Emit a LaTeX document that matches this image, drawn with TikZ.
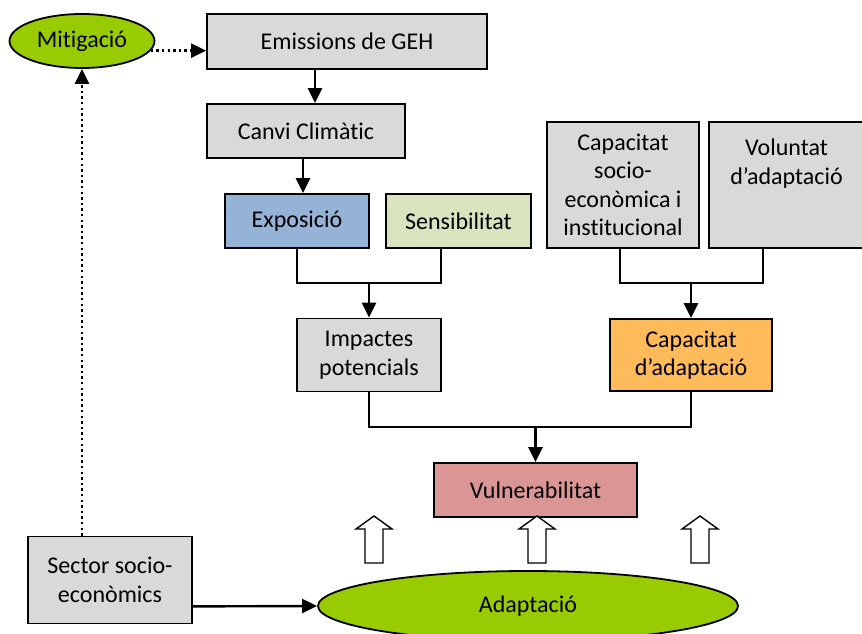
\documentclass[tikz,border=0pt]{standalone}
\usepackage{fontspec}
\setmainfont{Carlito}[Ligatures=NoCommon]
\usetikzlibrary{shapes.geometric, arrows.meta}
\definecolor{boxgray}{HTML}{D9D9D9}
\definecolor{leafgreen}{HTML}{99CC00}
\definecolor{expblue}{HTML}{95B3D7}
\definecolor{senpale}{HTML}{D7E4BD}
\definecolor{adaporange}{HTML}{FFBA5A}
\definecolor{vulred}{HTML}{DA9694}
\tikzset{
  every node/.style={font=\fontsize{24}{28.5}\selectfont},
  block/.style={draw, line width=1.8pt, fill=boxgray, align=center, inner sep=0pt},
  oval/.style={ellipse, draw, line width=1.8pt, fill=leafgreen, inner sep=0pt},
  link/.style={line width=2.2pt},
  flow/.style={line width=2.4pt, -{Triangle[length=15pt,width=14pt]}},
  hint/.style={line width=2.4pt, dash pattern=on 2.4pt off 3.2pt, -{Triangle[length=15pt,width=14pt]}},
  hollow/.style={draw, line width=1.4pt, fill=white},
}

\begin{document}
\begin{tikzpicture}[x=1pt, y=1pt]
		\useasboundingbox (0,0) rectangle (862,633);

		% nodes
		\node[oval, minimum width=145pt, minimum height=54pt] (mit) at (82,592) {Mitigació};
		\node[block, minimum width=280pt, minimum height=55pt] (emi) at (347,591.5) {Emissions de GEH};
		\node[block, minimum width=198pt, minimum height=54pt] (can) at (306,502) {Canvi Climàtic};
		\node[block, fill=expblue, minimum width=144pt, minimum height=54pt] (exp) at (297,412) {Exposició};
		\node[block, fill=senpale, minimum width=145pt, minimum height=54pt] (sen) at (458.5,412) {Sensibilitat};
		\node[block, minimum width=152pt, minimum height=126pt] (cse) at (623,448) {Capacitat\\socio-\\econòmica i\\institucional};
		\node[block, minimum width=155pt, minimum height=126pt, text depth=47pt] (vol) at (786.5,448) {Voluntat\\d’adaptació};
		\node[block, minimum width=144pt, minimum height=73pt] (imp) at (369,278) {Impactes\\potencials};
		\node[block, fill=adaporange, minimum width=162pt, minimum height=72pt] (cad) at (691,278) {Capacitat\\d’adaptació};
		\node[block, fill=vulred, minimum width=203pt, minimum height=54pt] (vul) at (535.5,143) {Vulnerabilitat};
		\node[block, minimum width=164pt, minimum height=87pt] (sec) at (110,53) {Sector socio-\\econòmics};
		\node[oval, minimum width=420pt, minimum height=70pt] (ada) at (528,27) {Adaptació};

		% joints
		\coordinate (j1) at (369,350);
		\coordinate (j2) at (691,350);
		\coordinate (j3) at (535.5,206);

		% connectors
		\draw[flow] ([xshift=-32pt]emi.south) -- ([xshift=-32pt]emi.south |- can.north);
		\draw[flow] ([xshift=-3pt]can.south) -- ([xshift=-3pt]can.south |- exp.north);
		\draw[link] (exp.south) |- (j1) -| ([xshift=-17.5pt]sen.south);
		\draw[flow] (j1) -- (imp.north);
		\draw[link] ([xshift=-3pt]cse.south) |- (j2) -| ([xshift=-23.5pt]vol.south);
		\draw[flow] (j2) -- (cad.north);
		\draw[link] (imp.south) |- (j3) -| (cad.south);
		\draw[flow] (j3) -- (vul.north);
		\draw[hint] (mit.-8) -- (mit.-8 -| emi.west);
		\draw[hint] (sec.north -| mit.south) -- (mit.south);
		\draw[flow] ([yshift=18pt]sec.south east) -- (ada.west);

		% hollow arrows
		\foreach \ax in {374,537,700}
			\draw[hollow] (\ax-9,70) -- (\ax-9,104) -- (\ax-18,104) -- (\ax,117)
				-- (\ax+18,104) -- (\ax+9,104) -- (\ax+9,70) -- cycle;
	\end{tikzpicture}
\end{document}
